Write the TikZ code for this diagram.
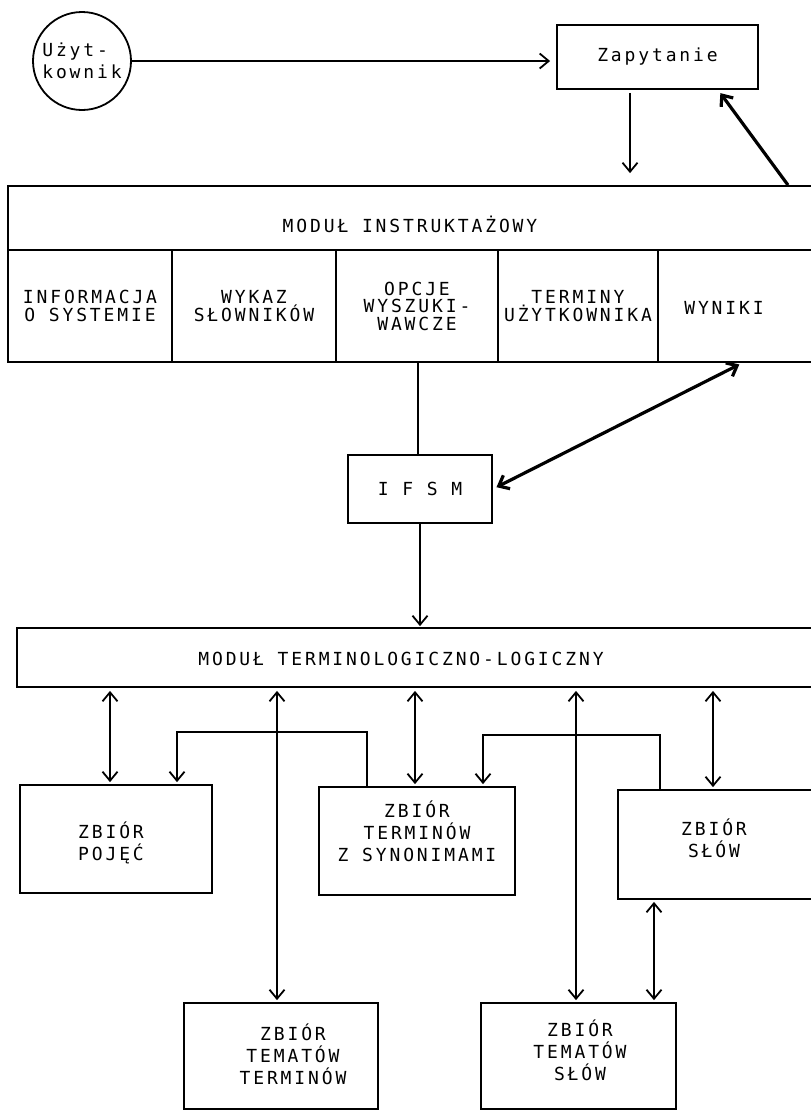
\documentclass[tikz,border=0pt]{standalone}
\usepackage{fontspec}
\newfontfamily\dm[LetterSpace=15.9]{DejaVu Sans Mono}
\usetikzlibrary{arrows.meta,calc}
\begin{document}
\begin{tikzpicture}[x=1pt,y=-1pt,
  txt/.style={font=\dm\fontsize{18}{22}\selectfont, align=center, inner sep=0pt},
  celltxt/.style={font=\dm\fontsize{18}{17.5}\selectfont, align=center, inner sep=0pt},
  box/.style={draw, line width=1.8pt, inner sep=0pt},
  conn/.style={line width=1.8pt},
  thinconn/.style={line width=1.3pt},
  heavy/.style={line width=3.2pt},
  head/.style={-{Straight Barb[length=9pt,width=15pt]}},
  dhead/.style={{Straight Barb[length=9pt,width=15pt]}-{Straight Barb[length=9pt,width=15pt]}},
]
\path[use as bounding box] (0,0) rectangle (811,1112);
\fill[white] (0,0) rectangle (811,1112);
\clip (0,0) rectangle (811,1112);

% top
\node[box, circle, minimum size=98pt, txt, align=left] (user) at (82,61) {Użyt-\\kownik};
\node[box, txt, minimum width=201pt, minimum height=64pt] (zap) at (657.5,57) {Zapytanie};

% instruktazowy module
\node[box, minimum width=814pt, minimum height=64pt] (mi) at (415,218) {};
\node[txt] (mitxt) at (410,224) {MODUŁ INSTRUKTAŻOWY};
\node[box, line width=2.2pt, celltxt, minimum width=164pt, minimum height=112pt] (c1) at (90,306) {INFORMACJA\\O SYSTEMIE};
\node[box, line width=2.2pt, celltxt, minimum width=164pt, minimum height=112pt] (c2) at (254,306) {WYKAZ\\SŁOWNIKÓW};
\node[box, line width=2.2pt, celltxt, minimum width=162pt, minimum height=112pt] (c3) at (417,306) {OPCJE\\WYSZUKI-\\WAWCZE};
\node[box, line width=2.2pt, celltxt, minimum width=160pt, minimum height=112pt] (c4) at (578,306) {TERMINY\\UŻYTKOWNIKA};
\node[box, line width=2.2pt, minimum width=164pt, minimum height=112pt] (c5) at (740,306) {};
\node[celltxt] (c5txt) at (724,308) {WYNIKI};

% IFSM
\node[box, txt, minimum width=144pt, minimum height=68pt] (ifsm) at (420,489) {I F S M};

% terminologiczno-logiczny module
\node[box, minimum width=805pt, minimum height=59pt] (tl) at (419.5,657.5) {};
\node[txt] (tltxt) at (401,659) {MODUŁ TERMINOLOGICZNO-LOGICZNY};

% lower boxes
\node[box, minimum width=192pt, minimum height=108pt] (pojec) at (116,839) {};
\node[txt] (pojectxt) at (111,843) {ZBIÓR\\POJĘĆ};
\node[box, minimum width=196pt, minimum height=108pt] (term) at (417,841) {};
\node[txt] (termtxt) at (417,831) {ZBIÓR\\TERMINÓW\\Z SYNONIMAMI};
\node[box, minimum width=204pt, minimum height=109pt] (slow) at (720,844.5) {};
\node[txt] (slowtxt) at (714,838) {ZBIÓR\\SŁÓW};
\node[box, minimum width=194pt, minimum height=106pt] (tt) at (281,1056) {};
\node[txt] (tttxt) at (293,1054) {ZBIÓR\\TEMATÓW\\TERMINÓW};
\node[box, minimum width=195pt, minimum height=106pt] (ts) at (578.5,1056) {};
\node[txt] (tstxt) at (580,1050) {ZBIÓR\\TEMATÓW\\SŁÓW};

% connectors top
\draw[conn, head, shorten >=6pt] (user.east) -- (zap.west |- user.east);
\draw[conn, head, shorten <=3pt, shorten >=12pt] (630,0 |- zap.south) -- (630,0 |- mi.north);
\draw[heavy, head, shorten >=4pt] (788,0 |- mi.north) -- (718,0 |- zap.south);
\draw[thinconn] (418,0 |- c3.south) -- (418,0 |- ifsm.north);
\draw[heavy, dhead, shorten <=4pt, shorten >=3pt] (ifsm.east) -- (742,0 |- c5.south);
\draw[conn, head, shorten >=1pt] (ifsm.south) -- (ifsm.south |- tl.north);

% connectors lower
\draw[conn, dhead, shorten <=3pt, shorten >=2pt] (110,0 |- tl.south) -- (110,0 |- pojec.north);
\draw[conn, dhead, shorten <=3pt, shorten >=2pt] (277,0 |- tl.south) -- (277,0 |- tt.north);
\draw[conn, dhead, shorten <=3pt, shorten >=2pt] (415,0 |- tl.south) -- (415,0 |- term.north);
\draw[conn, dhead, shorten <=3pt, shorten >=2pt] (576,0 |- tl.south) -- (576,0 |- ts.north);
\draw[conn, dhead, shorten <=3pt, shorten >=2pt] (713,0 |- tl.south) -- (713,0 |- slow.north);
\draw[conn, dhead, shorten <=2pt, shorten >=2pt] (654,0 |- slow.south) -- (654,0 |- ts.north);
\draw[conn, head, shorten >=2pt] (367,0 |- term.north) -- (367,732) -| (177,0 |- pojec.north);
\draw[conn, head, shorten >=2pt] (660,0 |- slow.north) -- (660,735) -| (483,0 |- term.north);
\end{tikzpicture}
\end{document}
